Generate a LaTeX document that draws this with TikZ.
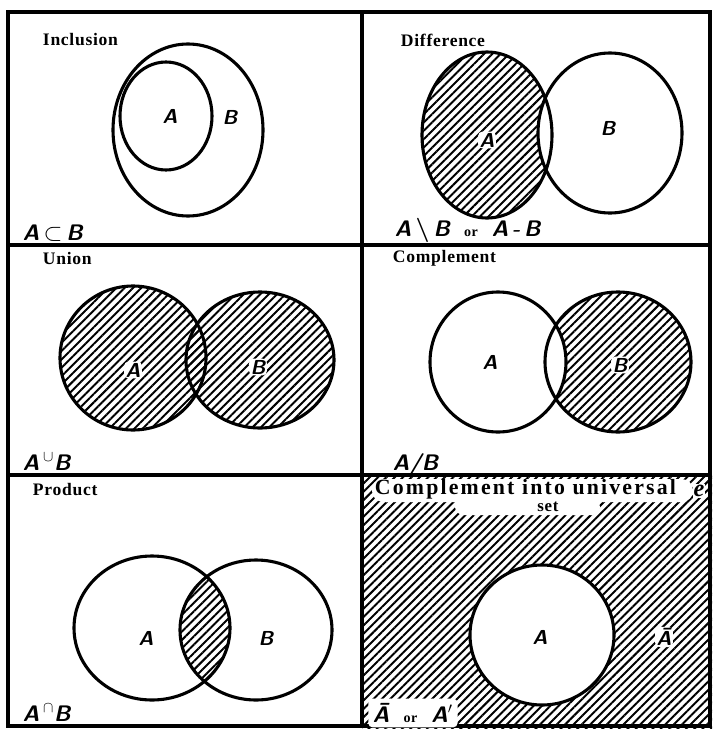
\documentclass[tikz,border=0pt]{standalone}
\usepackage{fontspec}
\usepackage{amsmath,amssymb}
\usetikzlibrary{patterns.meta}
\newfontfamily\ttlfont[LetterSpace=4]{Liberation Serif}
\tikzset{
  frame/.style={line width=2.2pt},
  set/.style={line width=2.2pt},
  hatch/.style={pattern={Lines[angle=45,distance=4.2pt,line width=1.4pt]}},
  title/.style={anchor=west, font=\ttlfont\bfseries\fontsize{12.5}{14}\selectfont},
  setname/.style={font=\Large\sffamily\bfseries\itshape, inner sep=1pt},
  hole/.style={fill=white, rounded corners=3pt},
  formula/.style={anchor=west, font=\sffamily\bfseries\itshape\fontsize{16}{18}\selectfont}
}
\newcommand{\orword}{{\ttlfont\bfseries\upshape\normalsize\quad or\quad}}
\begin{document}
\begin{tikzpicture}[x=0.025cm, y=-0.025cm]
    \useasboundingbox (0,0) rectangle (712,730);

    % Universal set (hatched panel)
    \fill[hatch] (362,475) rectangle (712,728);
    \fill[white, rounded corners=8pt] (372,479) rectangle (693,502);
    \fill[white, rounded corners=6pt] (455,499) rectangle (600,515);
    \fill[white] (542,635) ellipse [x radius=72, y radius=70];
    \draw[set] (542,635) ellipse [x radius=72, y radius=70];

    % Difference
    \fill[hatch] (487,135) ellipse [x radius=65, y radius=83];
    \fill[white] (610,133) ellipse [x radius=72, y radius=80];
    \draw[set] (487,135) ellipse [x radius=65, y radius=83];
    \draw[set] (610,133) ellipse [x radius=72, y radius=80];

    % Union
    \fill[hatch] (133,358) ellipse [x radius=73, y radius=72];
    \fill[hatch] (260,360) ellipse [x radius=74, y radius=68];
    \draw[set] (133,358) ellipse [x radius=73, y radius=72];
    \draw[set] (260,360) ellipse [x radius=74, y radius=68];

    % Complement
    \fill[hatch] (618,362) ellipse [x radius=73, y radius=70];
    \fill[white] (498,362) ellipse [x radius=68, y radius=70];
    \draw[set] (498,362) ellipse [x radius=68, y radius=70];
    \draw[set] (618,362) ellipse [x radius=73, y radius=70];

    % Product
    \begin{scope}
        \clip (152,628) ellipse [x radius=78, y radius=72];
        \fill[hatch] (256,630) ellipse [x radius=76, y radius=70];
    \end{scope}
    \draw[set] (152,628) ellipse [x radius=78, y radius=72];
    \draw[set] (256,630) ellipse [x radius=76, y radius=70];

    % Inclusion
    \draw[set] (188,130) ellipse [x radius=75, y radius=86];
    \draw[set] (166,116) ellipse [x radius=46, y radius=54];

    % Grid
    \draw[frame] (8,12) rectangle (710,726);
    \draw[frame] (362,12) -- (362,726);
    \draw[frame] (8,245) -- (710,245);
    \draw[frame] (8,475) -- (710,475);

    % Titles
    \node[title] (tInc) at (38,40) {Inclusion};
    \node[title] (tDif) at (396,40) {Difference};
    \node[title] (tUni) at (38,258) {Union};
    \node[title] (tCom) at (388,258) {Complement};
    \node[title] (tPro) at (28,490) {Product};
    \node[title, font={\ttlfont\addfontfeature{LetterSpace=10}\bfseries\fontsize{15.5}{17}\selectfont}] (tUnv) at (370,489) {Complement into universal};
    \node[font=\ttlfont\bfseries\large] (tSet) at (548,507) {set};
    \node[font=\ttlfont\bfseries\itshape\LARGE, fill=white, inner sep=0.5pt] (tE) at (699,491) {e};

    % Set names
    \node[setname] (incA) at (170,116) {A};
    \node[setname] (incB) at (230,117) {B};
    \node[setname, hole] (difA) at (487,140) {A};
    \node[setname] (difB) at (608,128) {B};
    \node[setname, hole] (uniA) at (133,370) {A};
    \node[setname, hole] (uniB) at (258,367) {B};
    \node[setname] (comA) at (490,362) {A};
    \node[setname, hole] (comB) at (620,365) {B};
    \node[setname] (proA) at (146,638) {A};
    \node[setname] (proB) at (266,638) {B};
    \node[setname] (unvA) at (540,637) {A};
    \node[setname, hole] (unvC) at (664,637) {Ā};

    % Formulas
    \node[formula] (fInc) at (18,233) {A$\,\subset\,$B};
    \node[formula] (fDif) at (390,230) {A$\,\boldsymbol{\setminus}\,$B\orword A\,-\,B};
    \node[formula] (fUni) at (18,462) {A\,$^{\cup}$B};
    \node[formula] (fCom) at (388,465) {A/B};
    \node[formula] (fPro) at (18,713) {A\,$^{\cap}$B};
    \node[formula, hole] (fUnv) at (368,713) {Ā\orword A$'$};
\end{tikzpicture}
\end{document}
